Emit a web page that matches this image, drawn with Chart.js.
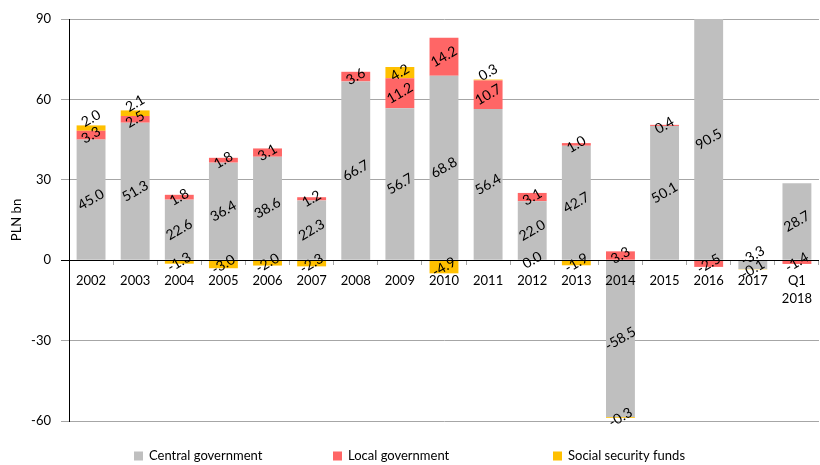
<!DOCTYPE html>
<html>
<head>
<meta charset="utf-8">
<title>PLN bn</title>
<script src="https://cdn.jsdelivr.net/npm/chart.js@4"></script>
<style>
    html, body { margin: 0; padding: 0; background: #fff; }
    #chart-box { width: 820px; height: 465px; }
</style>
</head>
<body>
<div id="chart-box"><canvas id="balanceChart" width="820" height="465"></canvas></div>
<script>
// Years on the x axis (last one is a quarter, split over two lines)
const categories = ['2002', '2003', '2004', '2005', '2006', '2007', '2008', '2009', '2010',
    '2011', '2012', '2013', '2014', '2015', '2016', '2017', ['Q1', '2018']];

// Values per sector, PLN bn
const centralGov = [45.0, 51.3, 22.6, 36.4, 38.6, 22.3, 66.7, 56.7, 68.8, 56.4, 22.0, 42.7, -58.5, 50.1, 90.5, -3.3, 28.7];
const localGov = [3.3, 2.5, 1.8, 1.8, 3.1, 1.2, 3.6, 11.2, 14.2, 10.7, 3.1, 1.0, 3.3, 0.4, -2.5, null, -1.4];
const socialFunds = [2.0, 2.1, -1.3, -3.0, -2.0, -2.3, null, 4.2, -4.9, 0.3, 0.0, -1.9, -0.3, null, null, -0.1, null];

// Y axis range
const yMin = -60;
const yMax = 90;
const yStep = 30;

const FONT = 'Lato, "Open Sans", sans-serif';
const GRID_GRAY = '#A6A6A6';

// height in pixels of one bar segment
function segHeight(bar) {
    return Math.abs(bar.base - bar.y);
}

// next labelled negative segment further from zero in the same column
function outerNegative(chart, i, j) {
    for (let k = i + 1; k < chart.data.datasets.length; k++) {
        const v = chart.data.datasets[k].data[j];
        if (v !== null && v < 0) return chart.getDatasetMeta(k).data[j];
    }
    return null;
}

// Rotated value labels in the middle of every segment
const segmentLabels = {
    id: 'segmentLabels',
    afterDraw(chart) {
        const ctx = chart.ctx;
        const area = chart.chartArea;
        const zeroY = chart.scales.y.getPixelForValue(0);
        ctx.save();
        ctx.font = '14px ' + FONT;
        ctx.fillStyle = '#000';
        ctx.textAlign = 'center';
        ctx.textBaseline = 'middle';
        chart.data.datasets.forEach((ds, i) => {
            const meta = chart.getDatasetMeta(i);
            meta.data.forEach((bar, j) => {
                const v = ds.data[j];
                if (v === null || v === undefined) return;
                const top = Math.max(bar.y, area.top);
                let mid = (top + bar.base) / 2;
                if (v === 0) {
                    mid = zeroY;
                } else if (v > 0 && i > 0 && segHeight(bar) < 8) {
                    // thin cap on top of another short segment: lift the label above the bar
                    const below = chart.getDatasetMeta(i - 1).data[j];
                    const belowVal = chart.data.datasets[i - 1].data[j];
                    if (belowVal > 0 && segHeight(below) < 30) {
                        mid = bar.y - 7;
                    }
                } else if (v < 0 && segHeight(bar) < 30) {
                    // short negative segment with a thin one under it: move label up to the axis
                    const outer = outerNegative(chart, i, j);
                    if (outer && segHeight(outer) < 8) {
                        mid = bar.base - 5;
                    }
                }
                ctx.save();
                ctx.translate(bar.x, mid);
                ctx.rotate(-Math.PI / 6);
                ctx.fillText(v.toFixed(1), 0, 0);
                ctx.restore();
            });
        });
        ctx.restore();
    }
};

// Legend drawn by hand so the items can sit far apart
const wideLegend = {
    id: 'wideLegend',
    afterDraw(chart) {
        const ctx = chart.ctx;
        const startX = [134, 333, 553];
        const y = 456;
        ctx.save();
        ctx.font = '13px ' + FONT;
        ctx.textBaseline = 'middle';
        ctx.textAlign = 'left';
        chart.data.datasets.forEach((ds, i) => {
            ctx.fillStyle = ds.backgroundColor;
            ctx.fillRect(startX[i], y - 4.5, 9, 9);
            ctx.fillStyle = '#000';
            ctx.fillText(ds.label, startX[i] + 15, y);
        });
        ctx.restore();
    }
};

const ctx = document.getElementById('balanceChart').getContext('2d');
const balanceChart = new Chart(ctx, {
    type: 'bar',
    data: {
        labels: categories,
        datasets: [
            { label: 'Central government', data: centralGov, backgroundColor: '#BFBFBF' },
            { label: 'Local government', data: localGov, backgroundColor: '#FF6666' },
            { label: 'Social security funds', data: socialFunds, backgroundColor: '#FFC000' }
        ]
    },
    options: {
        responsive: false,
        devicePixelRatio: 1,
        animation: false,
        barPercentage: 0.655,
        categoryPercentage: 1,
        layout: {
            padding: { top: 19, right: -2, bottom: 44, left: 0 }
        },
        plugins: {
            legend: { display: false },
            tooltip: { enabled: false }
        },
        scales: {
            x: {
                stacked: true,
                position: { y: 0 },
                grid: {
                    display: true,
                    drawOnChartArea: false,
                    drawTicks: true,
                    tickLength: 4,
                    color: GRID_GRAY
                },
                border: { display: true, color: '#000', width: 1, z: 1 },
                ticks: {
                    z: 1,
                    color: '#000',
                    font: { family: FONT, size: 13, lineHeight: 1.35 },
                    padding: 8,
                    maxRotation: 0,
                    autoSkip: false
                },
                afterFit: (scale) => { scale.height = 0; }
            },
            y: {
                stacked: true,
                min: yMin,
                max: yMax,
                grid: {
                    color: (c) => (c.tick && c.tick.value === 0 ? '#000' : GRID_GRAY),
                    tickLength: 8
                },
                border: { display: true, color: '#000', width: 1 },
                ticks: {
                    stepSize: yStep,
                    color: '#000',
                    padding: 10,
                    font: { family: FONT, size: 13 }
                },
                title: {
                    display: true,
                    text: 'PLN bn',
                    color: '#000',
                    font: { family: FONT, size: 13 },
                    padding: { top: 9, bottom: 0 }
                },
                afterFit: (scale) => { scale.width = 69; }
            }
        }
    },
    plugins: [segmentLabels, wideLegend]
});
</script>
</body>
</html>
